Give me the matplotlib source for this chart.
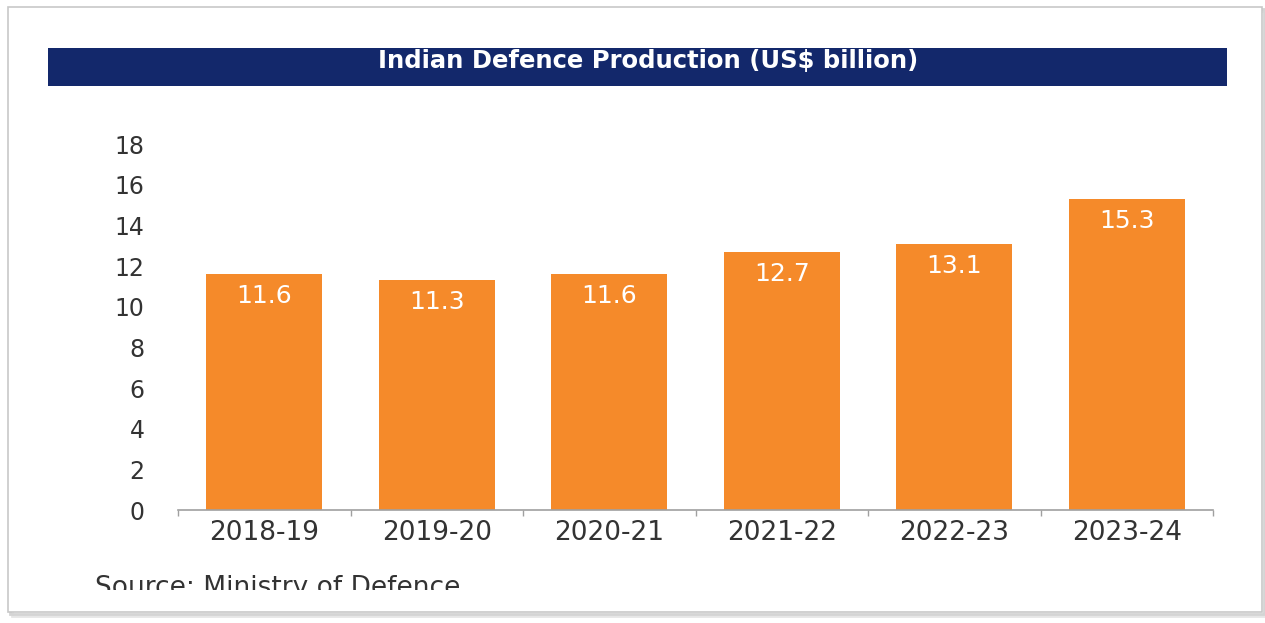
import matplotlib.pyplot as plt
from matplotlib.patches import Rectangle
from matplotlib.transforms import Bbox, TransformedBbox

# Data
years = ["2018-19", "2019-20", "2020-21", "2021-22", "2022-23", "2023-24"]
production = [11.6, 11.3, 11.6, 12.7, 13.1, 15.3]
yticks = [0, 2, 4, 6, 8, 10, 12, 14, 16, 18]

W, H = 1265, 623
plt.rcParams['font.family'] = ['DejaVu Sans']

fig = plt.figure(figsize=(W / 100, H / 100), dpi=100)
fig.patch.set_facecolor('white')

def px(x0, y0, x1, y1):
    # pixel box (top-left origin) -> figure fraction rect
    return (x0 / W, 1 - y1 / H, (x1 - x0) / W, (y1 - y0) / H)

# screenshot frame with a soft shadow
frame = px(8, 7, 1262, 612)
for off, col in [(4, '#e6e6e6'), (2, '#d4d4d4')]:
    fig.patches.append(Rectangle((frame[0] + off / W, frame[1] - off / H), frame[2], frame[3],
                                 transform=fig.transFigure, facecolor='none',
                                 edgecolor=col, lw=2, zorder=0))
fig.patches.append(Rectangle(frame[:2], frame[2], frame[3], transform=fig.transFigure,
                             facecolor='white', edgecolor='#c8c8c8', lw=1.2, zorder=1))

# navy title band
band = px(48, 48, 1227, 86)
fig.patches.append(Rectangle(band[:2], band[2], band[3], transform=fig.transFigure,
                             facecolor='#13286b', edgecolor='none', zorder=2))
fig.text(0.512, 1 - 68 / H, "Indian Defence Production (US$ billion)", color='white',
         fontsize=17.5, fontweight='bold', ha='center', va='baseline', zorder=3)

# the bar chart itself
ax = fig.add_axes(px(178, 144, 1213, 510))
ax.set_zorder(5)
ax.set_facecolor('none')
x = range(len(years))
bars = ax.bar(x, production, width=0.67, color='#f58a2a', zorder=2)

for b, v in zip(bars, production):
    ax.annotate(f"{v}", (b.get_x() + b.get_width() / 2, v), xytext=(0, -16),
                textcoords='offset points', ha='center', va='center',
                color='white', fontsize=18)

ax.set_xlim(-0.5, len(years) - 0.5)
ax.set_ylim(0, 18)
ax.set_yticks(yticks)
ax.set_yticklabels([str(t) for t in yticks], fontsize=17, color='#333333')
ax.set_xticks(list(x))
ax.set_xticklabels(years, fontsize=19, color='#333333')
ax.set_xticks([i - 0.5 for i in range(len(years) + 1)], minor=True)

ax.tick_params(axis='y', length=0, pad=24)
ax.tick_params(axis='x', which='major', length=0, pad=7)
ax.tick_params(axis='x', which='minor', length=4, color='#a0a0a0', width=1)

for s in ['top', 'right', 'left']:
    ax.spines[s].set_visible(False)
ax.spines['bottom'].set_color('#a0a0a0')
ax.spines['bottom'].set_linewidth(1.2)

# source note, cut off at the bottom like in the screenshot
src = fig.text(95 / W, 1 - 575 / H, "Source: Ministry of Defence", fontsize=19,
               color='#333333', ha='left', va='top', zorder=3)
src.set_clip_on(True)
src.set_clip_box(TransformedBbox(Bbox([[0, 1 - 590 / H], [1, 1]]), fig.transFigure))

fig.savefig('out.png', dpi=100, facecolor='white')
